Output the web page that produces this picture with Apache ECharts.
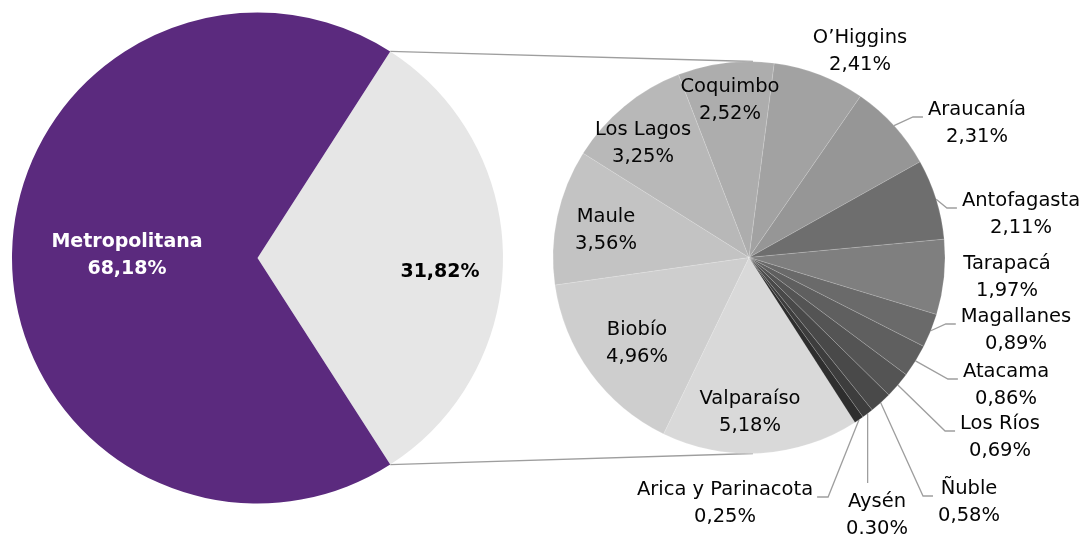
<!DOCTYPE html>
<html>
<head>
<meta charset="utf-8">
<title>Metropolitana y regiones</title>
<script src="https://cdn.jsdelivr.net/npm/echarts@6.0.0/dist/echarts.min.js"></script>
<style>
  html, body { margin: 0; padding: 0; background: #fff; }
  #chart { width: 1085px; height: 535px; }
</style>
</head>
<body>
<div id="chart"></div>
<script>
// first pie: Metropolitana vs the rest
const mainNames = ['Resto', 'Metropolitana'];
const mainValues = [31.82, 68.18];
const mainLabels = ['31,82%', '68,18%'];

// second pie: the rest, split by region
const regionNames = ['Valparaíso', 'Biobío', 'Maule', 'Los Lagos', 'Coquimbo', 'O’Higgins', 'Araucanía',
  'Antofagasta', 'Tarapacá', 'Magallanes', 'Atacama', 'Los Ríos', 'Ñuble', 'Aysén', 'Arica y Parinacota'];
const regionValues = [5.18, 4.96, 3.56, 3.25, 2.52, 2.41, 2.31, 2.11, 1.97, 0.89, 0.86, 0.69, 0.58, 0.30, 0.25];
const regionLabels = ['5,18%', '4,96%', '3,56%', '3,25%', '2,52%', '2,41%', '2,31%', '2,11%', '1,97%',
  '0,89%', '0,86%', '0,69%', '0,58%', '0.30%', '0,25%'];

// styles / layout
const mainColors = ['#e6e6e6', '#5b2a7e'];
const regionColors = ['#d9d9d9', '#cecece', '#c3c3c3', '#b8b8b8', '#adadad', '#a2a2a2', '#969696',
  '#6e6e6e', '#7f7f7f', '#6a6a6a', '#5f5f5f', '#545454', '#494949', '#3d3d3d', '#2e2e2e'];
const FONT = '"DejaVu Sans", Verdana, sans-serif';
const LINE = '#9e9e9e';
const mainCenter = [257.5, 258], mainR = 245.5;
const subCenter = [749, 257.5], subR = 196;

const mainLabelPos = { 'Metropolitana': [127, 256], 'Resto': [440, 272] };
const subLabelPos = {
  'Valparaíso': [750, 412], 'Biobío': [637, 343], 'Maule': [606, 230], 'Los Lagos': [643, 143],
  'Coquimbo': [730, 100], 'O’Higgins': [860, 51], 'Araucanía': [977, 123], 'Antofagasta': [1021, 214],
  'Tarapacá': [1007, 277], 'Magallanes': [1016, 330], 'Atacama': [1006, 385], 'Los Ríos': [1000, 437],
  'Ñuble': [969, 502], 'Aysén': [877, 515], 'Arica y Parinacota': [725, 503]
};
// which side of the label the leader line goes to
const leader = {
  'Araucanía': 'left', 'Antofagasta': 'left', 'Magallanes': 'left', 'Atacama': 'left',
  'Los Ríos': 'left', 'Ñuble': 'left', 'Aysén': 'top', 'Arica y Parinacota': 'right'
};

const share = mainValues[0] / 100;
const half = share * Math.PI;

// connector lines between the two pies
const topA = [mainCenter[0] + mainR * Math.cos(half), mainCenter[1] - mainR * Math.sin(half)];
const botA = [mainCenter[0] + mainR * Math.cos(half), mainCenter[1] + mainR * Math.sin(half)];
const topB = [subCenter[0] + 4, subCenter[1] - subR];
const botB = [subCenter[0] + 4, subCenter[1] + subR];

// mid-angle point on the outer edge of a sub slice (fallback for leader start)
function edgePoint(i) {
  const total = regionValues.reduce((a, b) => a + b, 0);
  let before = 0;
  for (let k = 0; k < i; k++) before += regionValues[k];
  const a = (-share * 180 - (before + regionValues[i] / 2) / total * 360) * Math.PI / 180;
  return [subCenter[0] + subR * Math.cos(a), subCenter[1] - subR * Math.sin(a)];
}

const chart = echarts.init(document.getElementById('chart'), null, { renderer: 'canvas' });

chart.setOption({
  animation: false,
  backgroundColor: '#ffffff',
  graphic: [
    { type: 'line', z: 0, shape: { x1: topA[0], y1: topA[1], x2: topB[0], y2: topB[1] },
      style: { stroke: LINE, lineWidth: 1.3 } },
    { type: 'line', z: 0, shape: { x1: botA[0], y1: botA[1], x2: botB[0], y2: botB[1] },
      style: { stroke: LINE, lineWidth: 1.3 } }
  ],
  series: [
    {
      type: 'pie',
      silent: true,
      center: mainCenter,
      radius: mainR,
      startAngle: share * 180,
      clockwise: true,
      avoidLabelOverlap: false,
      itemStyle: { borderWidth: 0 },
      label: {
        show: true,
        position: 'inside',
        fontFamily: FONT,
        fontSize: 19,
        fontWeight: 'bold',
        lineHeight: 27,
        textBorderWidth: 0,
        formatter: p => p.name === 'Metropolitana'
          ? p.name + '\n' + mainLabels[p.dataIndex]
          : mainLabels[p.dataIndex]
      },
      labelLine: { show: false },
      labelLayout: p => {
        const pos = mainLabelPos[mainNames[p.dataIndex]];
        return { x: pos[0], y: pos[1], align: 'center', verticalAlign: 'middle' };
      },
      data: mainNames.map((n, i) => ({
        name: n,
        value: mainValues[i],
        itemStyle: { color: mainColors[i] },
        label: { color: n === 'Metropolitana' ? '#ffffff' : '#000000' }
      }))
    },
    {
      type: 'pie',
      silent: true,
      center: subCenter,
      radius: subR,
      startAngle: -share * 180,
      clockwise: true,
      avoidLabelOverlap: false,
      itemStyle: { borderColor: 'rgba(255,255,255,0.25)', borderWidth: 0.6 },
      label: {
        show: true,
        position: 'outside',
        fontFamily: FONT,
        fontSize: 19.5,
        lineHeight: 27,
        color: '#050505',
        textBorderWidth: 0,
        formatter: p => p.name + '\n' + regionLabels[p.dataIndex]
      },
      labelLine: { show: false, length: 10, length2: 10, lineStyle: { color: LINE, width: 1.3 } },
      labelLayout: p => {
        const name = regionNames[p.dataIndex];
        const pos = subLabelPos[name];
        const w = p.labelRect.width, h = p.labelRect.height;
        const out = { x: pos[0], y: pos[1], align: 'center', verticalAlign: 'middle' };
        const kind = leader[name];
        if (kind) {
          const p0 = (p.labelLinePoints && p.labelLinePoints[0]) || edgePoint(p.dataIndex);
          if (kind === 'left') {
            const ex = pos[0] - w / 2 - 5, ey = pos[1] - 6;
            out.labelLinePoints = [p0, [ex - 10, ey], [ex, ey]];
          } else if (kind === 'right') {
            const ex = pos[0] + w / 2 + 4, ey = pos[1] - 6;
            out.labelLinePoints = [p0, [ex + 11, ey], [ex, ey]];
          } else {
            out.labelLinePoints = [p0, [p0[0], pos[1] - h / 2 - 5]];
          }
        }
        return out;
      },
      data: regionNames.map((n, i) => ({
        name: n,
        value: regionValues[i],
        itemStyle: { color: regionColors[i] },
        labelLine: { show: !!leader[n] }
      }))
    }
  ]
});
</script>
</body>
</html>
